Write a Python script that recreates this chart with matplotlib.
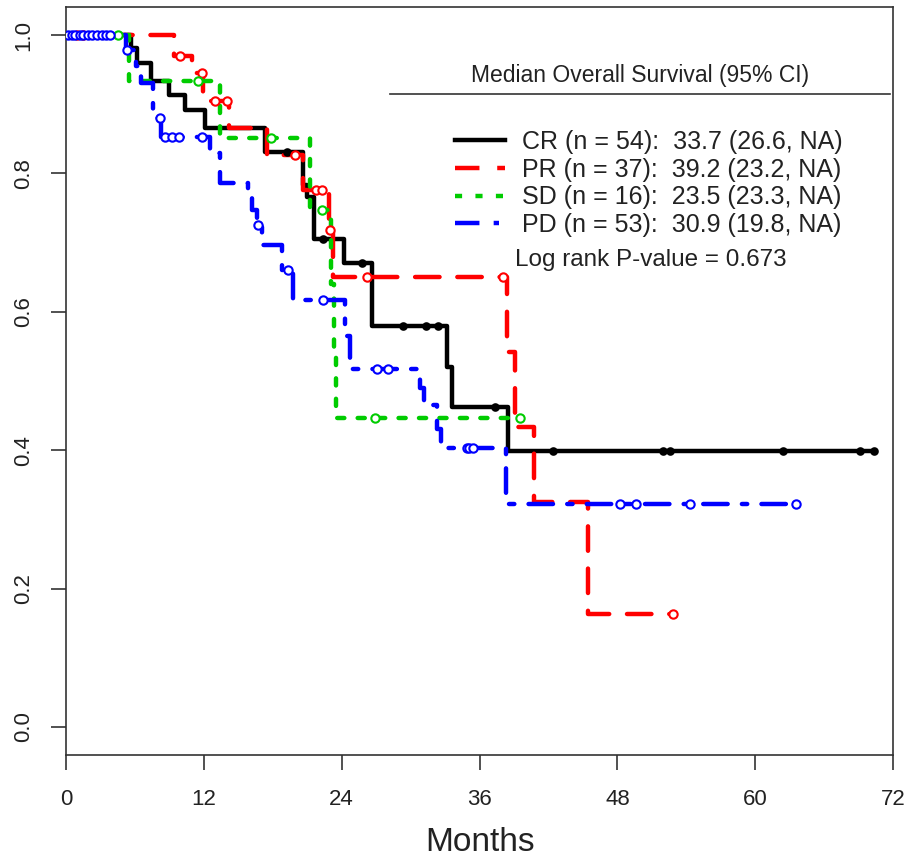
import numpy as np
import matplotlib.pyplot as plt
from matplotlib.lines import Line2D

plt.rcParams['font.family'] = ['Liberation Sans', 'DejaVu Sans']
narrow = ['Liberation Sans Narrow', 'Liberation Sans', 'DejaVu Sans']

# Kaplan-Meier step data (months, survival after each drop)
cr_times = [0, 5.7, 6.2, 7.4, 9.0, 10.4, 12.1, 17.3, 20.6, 21.0, 21.6, 24.2, 26.6, 33.2, 33.6, 38.5]
cr_surv = [1.0, 0.981, 0.959, 0.934, 0.913, 0.891, 0.866, 0.831, 0.783, 0.766, 0.705, 0.671, 0.579, 0.520, 0.462, 0.399]
cr_cens = [19.2, 22.4, 25.8, 29.3, 31.3, 32.4, 37.3, 42.4, 52.0, 52.6, 62.4, 69.1, 70.3]

pr_times = [0, 9.4, 11.0, 11.9, 14.2, 17.5, 20.6, 22.9, 23.2, 38.4, 39.1, 40.7, 45.4]
pr_surv = [1.0, 0.970, 0.945, 0.905, 0.866, 0.826, 0.776, 0.718, 0.650, 0.542, 0.433, 0.325, 0.163]
pr_cens = [1.0, 1.5, 9.9, 11.8, 13.0, 14.0, 19.9, 21.8, 22.3, 23.0, 26.2, 38.0, 52.8]

sd_times = [0, 5.5, 13.4, 21.2, 23.1, 23.3, 23.5]
sd_surv = [1.0, 0.933, 0.851, 0.747, 0.640, 0.545, 0.446]
sd_cens = [4.5, 11.5, 17.8, 22.3, 26.9, 39.5]

pd_times = [0, 5.2, 6.1, 6.5, 7.6, 8.3, 12.5, 13.4, 15.8, 16.2, 16.6, 17.1, 18.8, 19.8,
            24.3, 24.7, 30.8, 31.2, 32.3, 32.6, 38.3]
pd_surv = [1.0, 0.978, 0.955, 0.930, 0.880, 0.852, 0.830, 0.786, 0.767, 0.747, 0.725, 0.696, 0.660, 0.617,
           0.565, 0.518, 0.490, 0.465, 0.430, 0.403, 0.323]
pd_cens = [0.2, 0.5, 0.8, 1.2, 1.5, 1.9, 2.3, 2.7, 3.1, 3.5, 3.8, 5.3, 8.2, 8.6, 9.2, 9.8, 11.8,
           16.7, 19.3, 22.4, 27.1, 28.0, 34.9, 35.1, 35.4, 48.2, 49.6, 54.3, 63.5]

labels = ["CR (n = 54):  33.7 (26.6, NA)",
          "PR (n = 37):  39.2 (23.2, NA)",
          "SD (n = 16):  23.5 (23.3, NA)",
          "PD (n = 53):  30.9 (19.8, NA)"]
colors = ['black', '#ff0000', '#00cc00', '#0000ff']
styles = ['-', (0, (5.5, 4)), (0, (1.6, 3.0)), (0, (5.5, 3.2, 1.2, 3.2))]
groups = [(cr_times, cr_surv, cr_cens), (pr_times, pr_surv, pr_cens),
          (sd_times, sd_surv, sd_cens), (pd_times, pd_surv, pd_cens)]

xticks = [0, 12, 24, 36, 48, 60, 72]
yticks = [0.0, 0.2, 0.4, 0.6, 0.8, 1.0]

fig = plt.figure(figsize=(9.13, 8.67), dpi=100)
ax = fig.add_axes([0.0723, 0.1295, 0.906, 0.862])

lw = 3.2
for (t, s, c), col, ls in zip(groups, colors, styles):
    t = np.asarray(t, float)
    s = np.asarray(s, float)
    end = max(max(c), t[-1])
    ax.step(np.append(t, end), np.append(s, s[-1]), where='post', color=col,
            lw=lw, linestyle=ls, dash_capstyle='round', solid_capstyle='round')
    c = np.asarray(c, float)
    cs = s[np.searchsorted(t, c, side='right') - 1]
    if col == 'black':
        ax.plot(c, cs, linestyle='none', marker='o', ms=5, mew=1.2,
                mec=col, mfc=col, zorder=3)
    else:
        ax.plot(c, cs, linestyle='none', marker='o', ms=6, mew=1.5,
                mec=col, mfc='white', zorder=3)

ax.set_xlim(0, 72)
ax.set_ylim(-0.04, 1.04)
ax.set_xticks(xticks)
ax.set_xticklabels([str(x) for x in xticks], family=narrow, fontsize=16)
ax.set_yticks(yticks)
ax.set_yticklabels(['%.1f' % y for y in yticks], rotation=90, va='center',
                   family=narrow, fontsize=16)
ax.tick_params(axis='both', length=11, width=1.2, color='#333333', labelcolor='#222222')
ax.tick_params(axis='x', pad=14)
ax.tick_params(axis='y', pad=12)
for sp in ax.spines.values():
    sp.set_linewidth(1.2)
    sp.set_color('#333333')
ax.set_xlabel('Months', fontsize=24, labelpad=12, color='#222222', family=narrow)

# legend block
ax.text(0.694, 0.909, 'Median Overall Survival (95% CI)', transform=ax.transAxes,
        ha='center', va='center', fontsize=16.5, color='#222222')
ax.plot([0.392, 0.996], [0.884, 0.884], transform=ax.transAxes, color='#333333', lw=1.2)
handles = [Line2D([], [], color=col, lw=lw, linestyle=ls) for col, ls in zip(colors, styles)]
ax.legend(handles, labels, loc='upper left', bbox_to_anchor=(0.470, 0.836), frameon=False,
          fontsize=18, handlelength=2.0, handletextpad=0.7, labelspacing=0.15,
          borderpad=0, borderaxespad=0, labelcolor='#222222')
ax.text(0.543, 0.662, 'Log rank P-value = 0.673', transform=ax.transAxes,
        ha='left', va='center', fontsize=17.5, color='#222222')

fig.savefig('out.png', dpi=100)
